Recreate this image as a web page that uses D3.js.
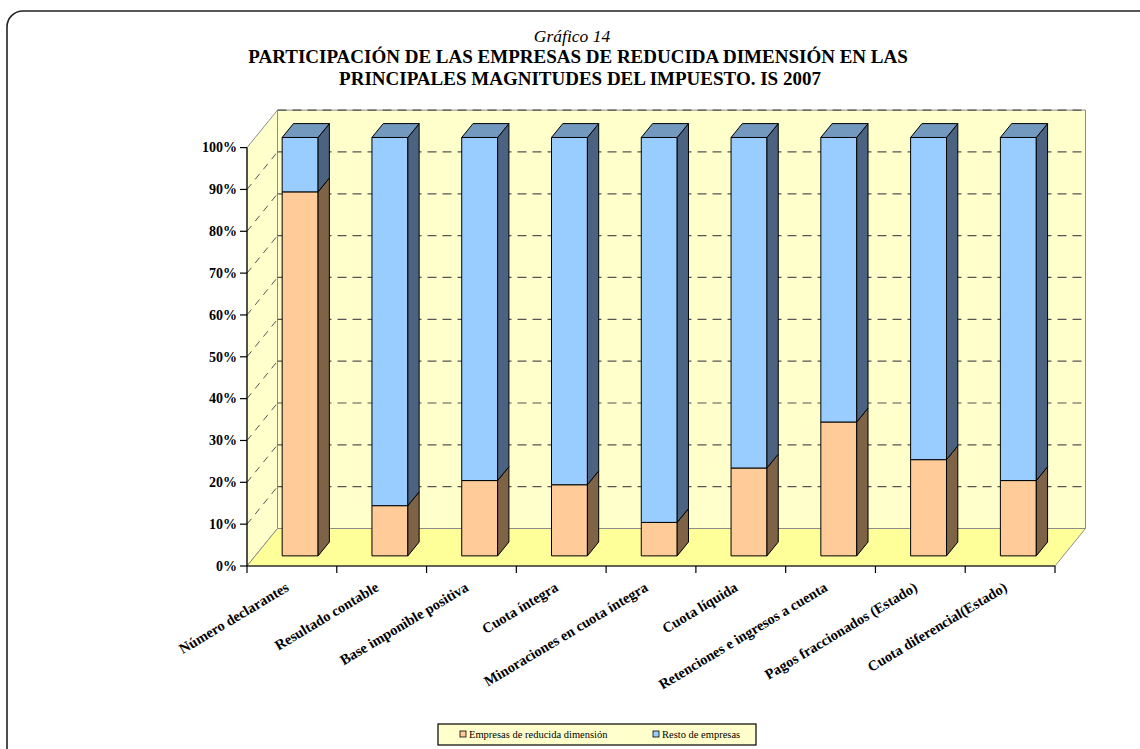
<!DOCTYPE html>
<html>
<head>
<meta charset="utf-8">
<script src="https://cdn.jsdelivr.net/npm/d3@7"></script>
<style>
  html, body { margin: 0; padding: 0; background: #fff; }
  svg { display: block; }
</style>
</head>
<body>
<script>
// Categories on the horizontal axis
const categories = [
  "Número declarantes",
  "Resultado contable",
  "Base imponible positiva",
  "Cuota íntegra",
  "Minoraciones en cuota íntegra",
  "Cuota líquida",
  "Retenciones e ingresos a cuenta",
  "Pagos fraccionados (Estado)",
  "Cuota diferencial(Estado)"
];

// Share (%) of each magnitude by company group
const reducidaDimension = [87, 12, 18, 17, 8, 21, 32, 23, 18];
const restoEmpresas     = [13, 88, 82, 83, 92, 79, 68, 77, 82];

const seriesNames = ["Empresas de reducida dimensión", "Resto de empresas"];
const yTickValues = [0, 10, 20, 30, 40, 50, 60, 70, 80, 90, 100];

const W = 1140, H = 749;
const FONT = "'Liberation Serif', 'Times New Roman', serif";

const svg = d3.select("body").append("svg")
  .attr("width", W).attr("height", H);

// Rounded outer frame
svg.append("rect")
  .attr("x", 7).attr("y", 11)
  .attr("width", W + 20).attr("height", H + 20)
  .attr("rx", 16).attr("ry", 16)
  .attr("fill", "#fff").attr("stroke", "#222").attr("stroke-width", 1.6);

// Titles
svg.append("text")
  .attr("x", 572).attr("y", 42)
  .attr("text-anchor", "middle")
  .attr("font-family", FONT).attr("font-style", "italic")
  .attr("font-size", 17.5)
  .text("Gráfico 14");
svg.append("text")
  .attr("x", 578).attr("y", 63)
  .attr("text-anchor", "middle")
  .attr("font-family", FONT).attr("font-weight", "bold")
  .attr("font-size", 19)
  .text("PARTICIPACIÓN DE LAS EMPRESAS DE REDUCIDA DIMENSIÓN EN LAS");
svg.append("text")
  .attr("x", 580).attr("y", 85)
  .attr("text-anchor", "middle")
  .attr("font-family", FONT).attr("font-weight", "bold")
  .attr("font-size", 19)
  .text("PRINCIPALES MAGNITUDES DEL IMPUESTO. IS 2007");

// Scales (front plane of the 3D box)
const x = d3.scaleBand().domain(categories).range([247, 1055]).padding(0);
const y = d3.scaleLinear().domain([0, 100]).range([566, 147.6]);

// Depth vector of the box and bar placement inside it
const DX = 30.5, DY = -37.5;
const BAR_FRONT = 0.27, BAR_BACK = 0.64;
const barW = x.bandwidth() * 0.40;

const pt = (px, v, f) => [px + f * DX, y(v) + f * DY];
const poly = pts => "M" + pts.map(p => p.join(",")).join("L") + "Z";

const x0 = x.range()[0], x1 = x.range()[1];

// Walls and floor
const g = svg.append("g");
g.append("path")
  .attr("d", poly([pt(x0, 0, 0), pt(x0, 100, 0), pt(x0, 100, 1), pt(x0, 0, 1)]))
  .attr("fill", "#FFFFCC").attr("stroke", "#8c8c8c").attr("stroke-width", 1);
g.append("path")
  .attr("d", poly([pt(x0, 0, 1), pt(x0, 100, 1), pt(x1, 100, 1), pt(x1, 0, 1)]))
  .attr("fill", "#FFFFCC").attr("stroke", "#8c8c8c").attr("stroke-width", 1);
g.append("path")
  .attr("d", poly([pt(x0, 0, 0), pt(x1, 0, 0), pt(x1, 0, 1), pt(x0, 0, 1)]))
  .attr("fill", "#FFFF99").attr("stroke", "#8c8c8c").attr("stroke-width", 1);

// Dashed gridlines on back and side walls
const gridVals = yTickValues.filter(v => v > 0);
g.selectAll(".gb").data(gridVals).join("line")
  .attr("x1", v => pt(x0, v, 1)[0]).attr("y1", v => pt(x0, v, 1)[1])
  .attr("x2", v => pt(x1, v, 1)[0]).attr("y2", v => pt(x1, v, 1)[1])
  .attr("stroke", "#555").attr("stroke-width", 1.2)
  .attr("stroke-dasharray", "9,6");
g.selectAll(".gs").data(gridVals.filter(v => v < 100)).join("line")
  .attr("x1", v => pt(x0, v, 0)[0]).attr("y1", v => pt(x0, v, 0)[1])
  .attr("x2", v => pt(x0, v, 1)[0]).attr("y2", v => pt(x0, v, 1)[1])
  .attr("stroke", "#555").attr("stroke-width", 1)
  .attr("stroke-dasharray", "7,6");

// Stacked data
const rows = categories.map((c, i) => ({ cat: c, a: reducidaDimension[i], b: restoEmpresas[i] }));
const stacked = d3.stack().keys(["a", "b"])(rows);

const palette = {
  a: { front: "#FFCC99", side: "#7F6347", top: "#BF9973" },
  b: { front: "#99CCFF", side: "#4B6380", top: "#7399BF" }
};

const barsG = svg.append("g");
rows.forEach((r, i) => {
  const cx = x(r.cat) + x.bandwidth() / 2;
  const left = cx - barW / 2, right = cx + barW / 2;
  stacked.forEach((s, si) => {
    const [v0, v1] = s[i];
    const col = palette[s.key];
    const f = BAR_FRONT, b = BAR_BACK;
    // front face
    barsG.append("path")
      .attr("d", poly([pt(left, v0, f), pt(right, v0, f), pt(right, v1, f), pt(left, v1, f)]))
      .attr("fill", col.front).attr("stroke", "#000").attr("stroke-width", 1);
    // side face
    barsG.append("path")
      .attr("d", poly([pt(right, v0, f), pt(right, v0, b), pt(right, v1, b), pt(right, v1, f)]))
      .attr("fill", col.side).attr("stroke", "#000").attr("stroke-width", 1);
    // top face (only on the upper segment)
    if (si === stacked.length - 1) {
      barsG.append("path")
        .attr("d", poly([pt(left, v1, f), pt(right, v1, f), pt(right, v1, b), pt(left, v1, b)]))
        .attr("fill", col.top).attr("stroke", "#000").attr("stroke-width", 1);
    }
  });
});

// Y axis
const axG = svg.append("g");
axG.append("line")
  .attr("x1", x0).attr("x2", x0).attr("y1", y(0)).attr("y2", y(100))
  .attr("stroke", "#000").attr("stroke-width", 1.2);
axG.selectAll(".yt").data(yTickValues).join("line")
  .attr("x1", x0 - 7).attr("x2", x0).attr("y1", v => y(v)).attr("y2", v => y(v))
  .attr("stroke", "#000").attr("stroke-width", 1.2);
axG.selectAll(".yl").data(yTickValues).join("text")
  .attr("x", x0 - 10).attr("y", v => y(v) + 4.8)
  .attr("text-anchor", "end")
  .attr("font-family", FONT).attr("font-weight", "bold").attr("font-size", 14)
  .text(v => v + "%");

// X axis
axG.append("line")
  .attr("x1", x0).attr("x2", x1).attr("y1", y(0)).attr("y2", y(0))
  .attr("stroke", "#000").attr("stroke-width", 1.2);
const bounds = d3.range(categories.length + 1).map(i => x0 + i * x.step());
axG.selectAll(".xt").data(bounds).join("line")
  .attr("x1", d => d).attr("x2", d => d).attr("y1", y(0)).attr("y2", y(0) + 7)
  .attr("stroke", "#000").attr("stroke-width", 1.2);
axG.selectAll(".xl").data(categories).join("text")
  .attr("transform", c => `translate(${x(c) + x.bandwidth() / 2 - 2},${y(0) + 24}) rotate(-31)`)
  .attr("text-anchor", "end")
  .attr("font-family", FONT).attr("font-weight", "bold").attr("font-size", 14.5)
  .text(c => c);

// Legend
const lg = svg.append("g");
lg.append("rect")
  .attr("x", 438).attr("y", 724).attr("width", 318).attr("height", 21)
  .attr("fill", "#FFFFCC").attr("stroke", "#000").attr("stroke-width", 1.2);
const legendItems = [
  { name: seriesNames[0], color: palette.a.front, x: 460 },
  { name: seriesNames[1], color: palette.b.front, x: 653 }
];
legendItems.forEach(it => {
  lg.append("rect")
    .attr("x", it.x).attr("y", 731).attr("width", 6).attr("height", 6)
    .attr("fill", it.color).attr("stroke", "#000").attr("stroke-width", 0.8);
  lg.append("text")
    .attr("x", it.x + 9).attr("y", 737.5)
    .attr("font-family", FONT).attr("font-size", 10.5)
    .text(it.name);
});
</script>
</body>
</html>
